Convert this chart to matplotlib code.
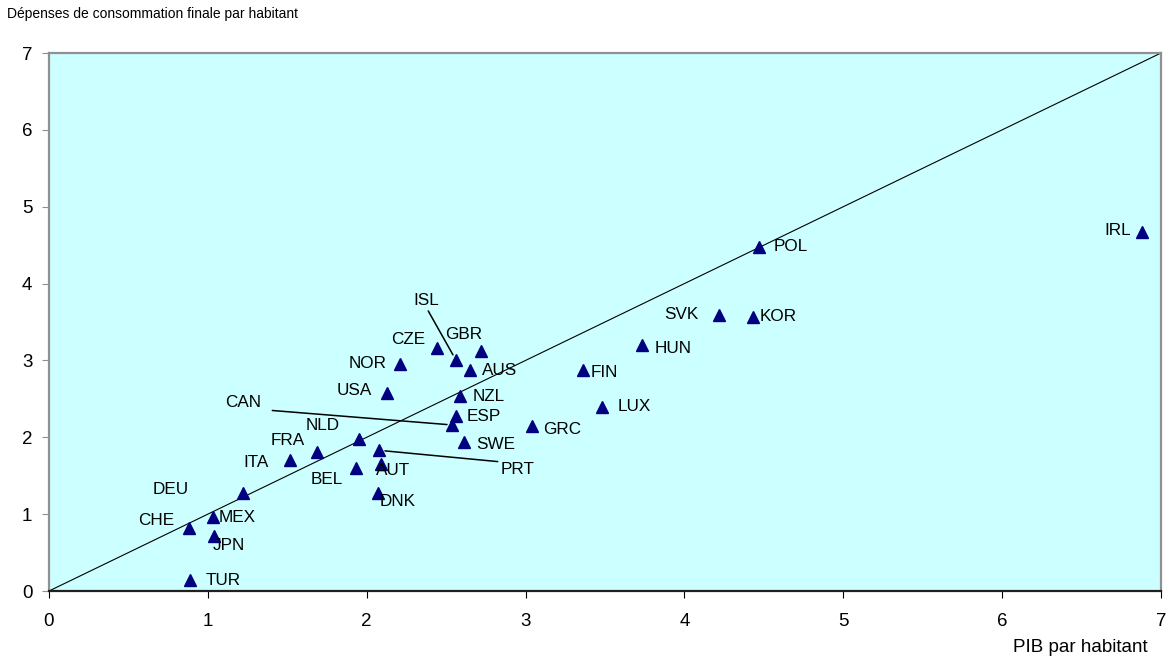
import matplotlib.pyplot as plt

plt.rcParams['font.family'] = ['Liberation Sans', 'DejaVu Sans']

# growth of GDP per head vs final consumption per head
countries = ['TUR', 'CHE', 'MEX', 'JPN', 'DEU', 'ITA', 'FRA', 'NLD', 'BEL', 'AUT',
             'PRT', 'DNK', 'USA', 'NOR', 'CZE', 'ISL', 'GBR', 'AUS', 'NZL', 'ESP',
             'CAN', 'SWE', 'GRC', 'FIN', 'LUX', 'HUN', 'SVK', 'KOR', 'POL', 'IRL']
pib = [0.89, 0.88, 1.03, 1.04, 1.22, 1.52, 1.69, 1.95, 1.93, 2.09,
       2.08, 2.07, 2.13, 2.21, 2.44, 2.56, 2.72, 2.65, 2.59, 2.56,
       2.54, 2.61, 3.04, 3.36, 3.48, 3.73, 4.22, 4.43, 4.47, 6.88]
conso = [0.14, 0.82, 0.96, 0.72, 1.28, 1.70, 1.81, 1.98, 1.60, 1.65,
         1.83, 1.27, 2.57, 2.96, 3.16, 3.01, 3.12, 2.88, 2.54, 2.28,
         2.16, 1.94, 2.15, 2.88, 2.40, 3.20, 3.59, 3.57, 4.48, 4.67]

# label offsets in pixels (dx right, dy down) from each point
offsets = {
    'TUR': (33, 0), 'CHE': (-33, -7), 'MEX': (25, 0), 'JPN': (15, 10),
    'DEU': (-72, -3), 'ITA': (-34, 2), 'FRA': (-30, -11), 'NLD': (-36, -13),
    'BEL': (-29, 11), 'AUT': (12, 6), 'PRT': (138, 19), 'DNK': (20, 8),
    'USA': (-33, -3), 'NOR': (-32, 0), 'CZE': (-28, -9), 'ISL': (-29, -59),
    'GBR': (-17, -17), 'AUS': (30, 1), 'NZL': (28, 1), 'ESP': (28, 1),
    'CAN': (-209, -22), 'SWE': (32, 3), 'GRC': (30, 4), 'FIN': (22, 3),
    'LUX': (32, 0), 'HUN': (32, 3), 'SVK': (-38, -1), 'KOR': (25, 0),
    'POL': (32, 0), 'IRL': (-24, -2),
}
leaders = {'ISL': (0.5, 0.0), 'CAN': (1.3, 0.0), 'PRT': (0.0, 1.0)}

fig = plt.figure(figsize=(11.75, 6.59), dpi=100)
ax = fig.add_axes([49 / 1175, 68 / 659, 1112 / 1175, 538 / 659])
ax.set_facecolor('#ccffff')

ax.plot([0, 7], [0, 7], color='black', linewidth=0.8, zorder=2)
ax.plot(pib, conso, linestyle='none', marker='^', markersize=8.5,
        color='#000080', zorder=3)

for name, x, y in zip(countries, pib, conso):
    dx, dy = offsets[name]
    kw = {}
    if name in leaders:
        kw['arrowprops'] = dict(arrowstyle='-', color='black', linewidth=1.1,
                                shrinkA=0, shrinkB=4, relpos=leaders[name])
    ax.annotate(name, (x, y), xytext=(dx, -dy), textcoords='offset pixels',
                ha='center', va='center', fontsize=12.3, zorder=4, **kw)

ax.set_xlim(0, 7)
ax.set_ylim(0, 7)
ax.set_xticks(range(8))
ax.set_yticks(range(8))
for s in ax.spines.values():
    s.set_color('#909090')
    s.set_linewidth(1.6)
ax.spines['bottom'].set_color('#202020')
ax.tick_params(direction='out', length=5, labelsize=13.5)
ax.tick_params(axis='y', pad=7, color='#909090')
ax.tick_params(axis='x', pad=11, color='black')

fig.text(7 / 1175, 1 - 14 / 659, 'Dépenses de consommation finale par habitant',
         ha='left', va='center', fontsize=10)
fig.text(1148 / 1175, 1 - 648 / 659, 'PIB par habitant',
         ha='right', va='center', fontsize=13.5)

fig.savefig('out.png', dpi=100)
